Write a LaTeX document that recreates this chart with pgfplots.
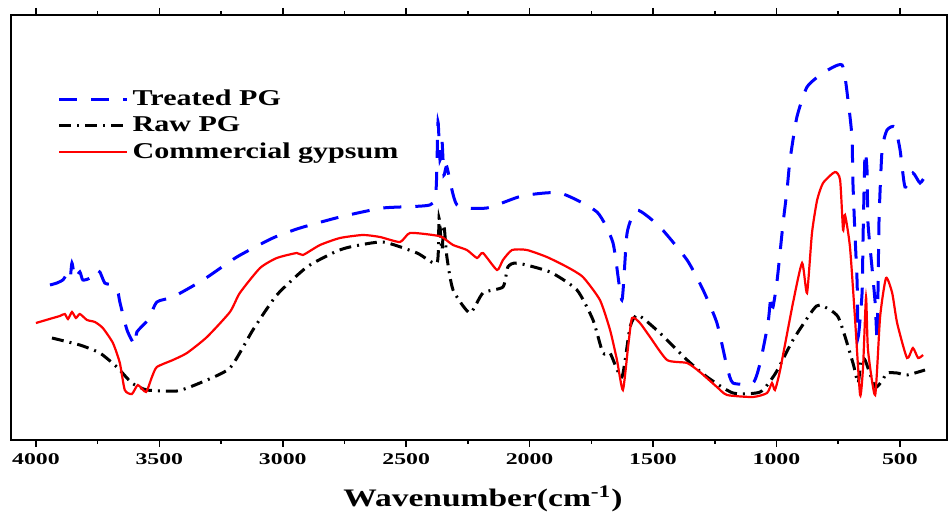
\documentclass[border=0pt]{standalone}
\usepackage{fontspec}
\setmainfont{Liberation Serif}[FakeStretch=1.33]
\newfontfamily\tickfont{Liberation Serif}[FakeStretch=1.45]
\usepackage{pgfplots}
\pgfplotsset{compat=1.18}

\definecolor{tpg}{RGB}{0,0,255}
\definecolor{cgy}{RGB}{255,0,0}

\begin{document}
\begin{tikzpicture}
\begin{axis}[
  at={(0pt,0pt)}, anchor=south west,
  scale only axis, width=468pt, height=212.5pt,
  x dir=reverse, xmin=309, xmax=4101, ymin=0, ymax=425,
  xtick={500,1000,...,4000}, minor xtick={750,1250,...,3750},
  ytick=\empty,
  tick align=outside, major tick length=3.5pt, minor tick length=2pt,
  axis line style={line width=1pt}, every tick/.style={line width=0.8pt, black},
  /pgf/number format/assume math mode=true,
  /pgf/number format/set thousands separator={},
  xticklabel style={font=\tickfont\fontsize{8.2}{10}\selectfont\bfseries},
  xlabel={Wavenumber(cm\textsuperscript{-1})},
  xlabel style={font=\fontsize{12.6}{14}\selectfont\bfseries, yshift=-3.5pt, xshift=2pt},
  legend style={at={(0.043,0.843)}, anchor=north west, draw=none, fill=none,
    font=\fontsize{11.3}{13.5}\selectfont\bfseries, row sep=0pt},
  legend cell align=left,
  legend image code/.code={\draw[#1] (0pt,0pt) -- (34pt,0pt);},
]
% Treated PG
\addplot[tpg, line width=1.5pt, dash pattern=on 9pt off 7pt, smooth, tension=0.35] coordinates {
(3943,155)(3915,157)(3891,160)(3875,165)(3862,160)(3854,177)(3842,162)(3822,168)
(3810,160)(3781,162)(3761,170)(3741,168)(3721,157)(3692,155)(3668,148)(3660,138)
(3631,110)(3599,95)(3591,108)(3546,120)(3510,138)(3445,143)(3323,160)(3186,183)
(3040,202)(2930,212)(2768,223)(2594,232)(2404,235)(2379,250)(2371,318)(2363,280)
(2355,300)(2347,265)(2335,273)(2294,235)(2173,232)(2031,244)(1877,247)(1727,228)
(1662,197)(1626,140)(1605,207)(1565,230)(1472,213)(1362,180)(1297,150)(1241,117)
(1200,73)(1176,57)(1095,57)(1066,77)(1034,117)(1022,145)(1014,133)(997,160)
(973,217)(957,250)(945,280)(917,323)(876,353)(811,367)(734,375)(710,340)
(694,303)(690,257)(682,207)(673,157)(669,103)(653,147)(649,203)(641,287)
(633,270)(629,217)(613,173)(600,137)(592,100)(588,157)(584,223)(572,290)
(552,310)(520,313)(499,290)(479,253)(447,267)(418,257)(390,267)
};
\addlegendentry{Treated PG}
% Raw PG
\addplot[black, line width=1.5pt, dash pattern=on 6pt off 3pt on 1pt off 3pt, smooth, tension=0.35] coordinates {
(3935,102)(3822,95)(3741,87)(3672,73)(3611,57)(3550,50)(3429,49)(3336,57)
(3214,72)(3121,110)(3024,145)(2902,173)(2789,188)(2728,193)(2594,198)(2456,187)
(2375,177)(2367,222)(2355,190)(2347,215)(2335,183)(2310,150)(2242,127)(2189,147)
(2108,153)(2088,173)(2051,177)(1917,168)(1808,150)(1743,120)(1703,87)(1674,87)
(1626,63)(1593,113)(1561,125)(1472,107)(1362,80)(1281,63)(1176,47)(1066,48)
(1003,67)(933,100)(852,130)(823,135)(750,123)(690,77)(669,57)(657,80)
(641,80)(600,53)(570,60)(552,67)(511,67)(471,65)(398,70)
};
\addlegendentry{Raw PG}
% Commercial gypsum
\addplot[cgy, line width=1.1pt, smooth, tension=0.35] coordinates {
(4000,117)(3931,122)(3903,124)(3883,126)(3870,121)(3854,128)(3838,122)(3822,126)
(3793,120)(3761,118)(3729,112)(3688,97)(3660,77)(3640,50)(3611,46)(3587,55)
(3554,48)(3530,63)(3510,73)(3445,80)(3388,87)(3307,103)(3214,128)(3174,147)
(3092,172)(3024,182)(2943,187)(2918,185)(2849,195)(2768,202)(2675,205)(2606,203)
(2525,198)(2485,207)(2392,205)(2355,203)(2310,195)(2254,190)(2213,182)(2189,187)
(2132,170)(2108,180)(2071,190)(2011,190)(1930,183)(1848,173)(1784,163)(1715,140)
(1674,110)(1646,80)(1622,50)(1601,93)(1585,122)(1553,117)(1512,103)(1443,80)
(1362,77)(1310,68)(1241,53)(1200,45)(1095,43)(1038,47)(1018,57)(1006,50)
(985,70)(933,137)(896,177)(876,147)(856,207)(835,240)(811,257)(763,268)
(742,260)(730,210)(722,225)(702,193)(682,123)(661,45)(649,73)(637,143)
(629,90)(600,45)(580,123)(556,162)(531,147)(511,117)(471,82)(447,92)
(426,82)(406,85)
};
\addlegendentry{Commercial gypsum}
\end{axis}
\pgfresetboundingbox
\path (-5.5pt,-37pt) rectangle (469pt,220pt);
\end{tikzpicture}
\end{document}
